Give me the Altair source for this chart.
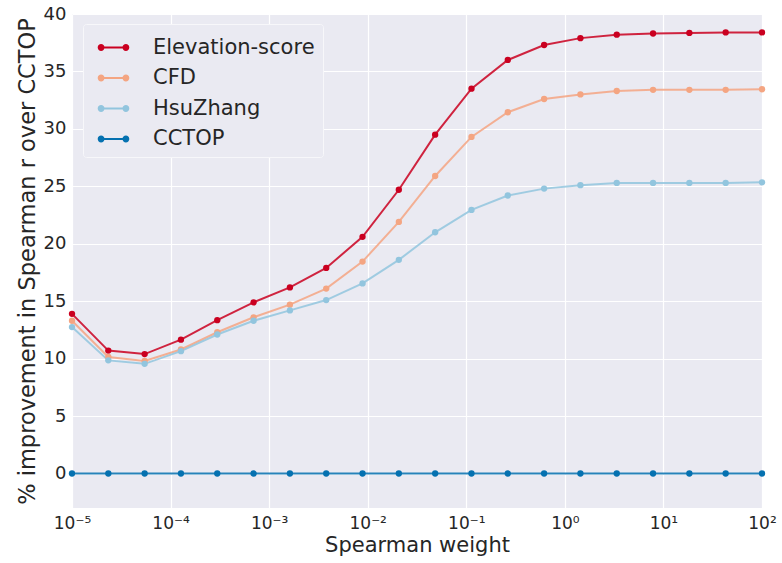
import altair as alt
import pandas as pd

spearman_weight = [1.0e-5, 2.336e-5, 5.456e-5, 1.274e-4, 2.976e-4, 6.952e-4,
                   1.624e-3, 3.793e-3, 8.859e-3, 2.069e-2, 4.833e-2, 0.1129,
                   0.2637, 0.6158, 1.438, 3.360, 7.848, 18.33, 42.81, 100.0]

elevation = [13.9, 10.7, 10.4, 11.65, 13.35, 14.9, 16.2, 17.9, 20.6, 24.7,
             29.5, 33.5, 36.0, 37.3, 37.9, 38.2, 38.3, 38.35, 38.4, 38.4]
cfd = [13.3, 10.15, 9.8, 10.8, 12.3, 13.6, 14.7, 16.1, 18.45, 21.9,
       25.9, 29.3, 31.45, 32.6, 33.0, 33.3, 33.4, 33.4, 33.4, 33.45]
hsuzhang = [12.75, 9.85, 9.55, 10.65, 12.1, 13.3, 14.2, 15.1, 16.55, 18.6,
            21.0, 22.95, 24.2, 24.8, 25.1, 25.3, 25.3, 25.3, 25.3, 25.35]
cctop = [0.0] * 20

series_names = ["Elevation-score", "CFD", "HsuZhang", "CCTOP"]
series_values = [elevation, cfd, hsuzhang, cctop]
series_colors = ["#CA0020", "#F4A582", "#92C5DE", "#0571B0"]

x_ticks = [1e-5, 1e-4, 1e-3, 1e-2, 1e-1, 1e0, 1e1, 1e2]
x_tick_labels = ["10⁻⁵", "10⁻⁴", "10⁻³", "10⁻²", "10⁻¹", "10⁰", "10¹", "10²"]
y_ticks = [0, 5, 10, 15, 20, 25, 30, 35, 40]

rows = []
for order, (name, vals) in enumerate(zip(series_names, series_values)):
    for x, y in zip(spearman_weight, vals):
        rows.append({"series": name, "x": x, "y": y, "order": order})
df = pd.DataFrame(rows)

label_expr = "[" + ",".join("'%s'" % s for s in x_tick_labels) + "][round(log(datum.value)/LN10)+5]"

# legend glyph: a short line with a filled marker at each end (all same winding)
legend_shape = ("M-0.8,-0.07L0.8,-0.07L0.8,0.07L-0.8,0.07Z "
                "M-1.02,0A0.22,0.22 0 1,1 -0.58,0A0.22,0.22 0 1,1 -1.02,0Z "
                "M0.58,0A0.22,0.22 0 1,1 1.02,0A0.22,0.22 0 1,1 0.58,0Z")

x_enc = alt.X("x:Q", scale=alt.Scale(type="log", domain=[1e-5, 100], nice=False),
              axis=alt.Axis(values=x_ticks, labelExpr=label_expr, title="Spearman weight",
                            titlePadding=3, labelPadding=7, labelFlush=False,
                            labelFontSize=17, titleFontSize=21))
y_enc = alt.Y("y:Q", scale=alt.Scale(domain=[-3, 40], nice=False, zero=False),
              axis=alt.Axis(values=y_ticks, title="% improvement in Spearman r over CCTOP",
                            titlePadding=4, labelPadding=6, labelFontSize=18,
                            titleFontSize=22.5))
scale = alt.Scale(domain=series_names, range=series_colors)
legend = alt.Legend(title=None, orient="none", legendX=11, legendY=10,
                    symbolType=legend_shape, symbolSize=961,
                    symbolStrokeWidth=0, symbolOffset=7, labelOffset=24,
                    rowPadding=4.5, padding=8,
                    fillColor="#EAEAF2", strokeColor="#F7F7FA",
                    cornerRadius=3)

base = alt.Chart(df)
lines = base.mark_line(strokeWidth=2, opacity=0.85).encode(
    x=x_enc, y=y_enc,
    stroke=alt.Stroke("series:N", scale=scale, legend=legend),
    order=alt.Order("x:Q"),
)
points = base.mark_point(filled=True, size=40, opacity=1).encode(
    x=x_enc, y=y_enc,
    fill=alt.Fill("series:N", scale=scale, legend=legend),
)

chart = alt.layer(lines, points).properties(
    width=690, height=494,
    padding={"left": 72, "top": 14, "right": 20, "bottom": 55},
    autosize=alt.AutoSizeParams(type="none"),
).configure(
    font="DejaVu Sans",
    background="white",
).configure_view(
    fill="#EAEAF2", stroke=None,
).configure_axis(
    domain=False, ticks=False, grid=True, gridColor="white", gridWidth=1.2,
    labelFont="DejaVu Sans", labelColor="#262626",
    titleFont="DejaVu Sans", titleColor="#262626", titleFontWeight="normal",
).configure_legend(
    labelFont="DejaVu Sans", labelFontSize=21, labelColor="#262626", labelLimit=300,
    symbolOpacity=1,
)

chart.save("out.html", embed_options={"renderer": "svg", "actions": False})
